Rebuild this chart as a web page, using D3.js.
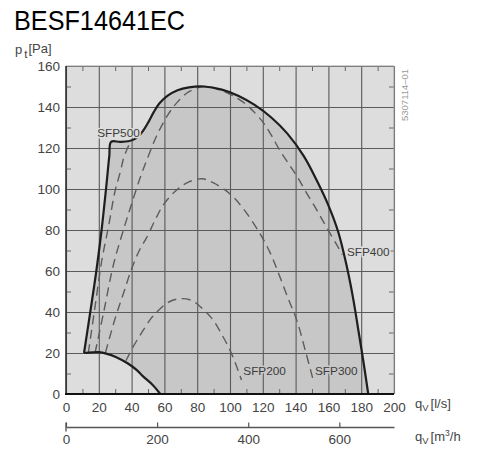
<!DOCTYPE html>
<html>
<head>
<meta charset="utf-8">
<script src="https://cdn.jsdelivr.net/npm/d3@7"></script>
<style>
  body { margin: 0; background: #fff; }
  svg text { font-family: "Liberation Sans", Arial, sans-serif; }
</style>
</head>
<body>
<div id="chart"></div>
<script>
// ---- values ----
var chartTitle = "BESF14641EC";
var drawingId = "5307114\u201301";

// axis ticks
var xTicks = [0, 20, 40, 60, 80, 100, 120, 140, 160, 180, 200];     // l/s
var yTicks = [0, 20, 40, 60, 80, 100, 120, 140, 160];               // Pa
var m3hTicks = [0, 200, 400, 600];                                  // m3/h

// working envelope, bold upper/right boundary (q in l/s, p in Pa)
var envQ = [11, 14.8, 18.5, 21.7, 24.4, 26.4, 27.5, 33, 38, 41.5, 44.5, 47.5, 50.5, 53.5, 57, 62, 68, 75, 84,
            95, 105, 115, 125, 135, 145, 153, 160, 166, 171, 175, 178.5, 181.5, 184.3];
var envP = [20, 40, 60, 80, 100, 116, 123, 123, 123.3, 124.2, 126, 129, 133, 137.5, 141.8, 145.5, 148.2, 149.6, 150,
            148.5, 145.5, 141, 135, 127, 116, 104, 92, 79, 63, 47, 30, 15, 0];

// bold lower boundary
var lowQ = [11, 16, 20, 25, 30, 37.5, 43, 47, 53, 57.5];
var lowP = [20, 20.3, 20.4, 19.6, 18.2, 15, 11.8, 8.6, 4.3, 0];

// dashed SFP lines
var sfp500Q = [13.6, 17.6, 21.8, 26, 29.9, 33, 35, 37, 39.5];
var sfp500P = [20, 42, 65, 82, 99, 108, 114.6, 119, 123.4];

var sfp400Q = [17.7, 23, 28.9, 35, 40, 45, 49.2, 55.3, 62, 67.5, 75, 84, 92, 100, 106, 112, 120.3, 125,
               130.5, 136, 141, 146, 152, 157, 162, 166, 168.5];
var sfp400P = [20, 40, 63, 80, 92.7, 105, 114, 126, 136, 142, 147.5, 150, 148.8, 146.2, 143.5, 139.7, 132.4, 126.5,
               118.7, 112, 106, 99, 91, 84, 77, 71.5, 68];

var sfp300Q = [24, 30, 35, 40, 45, 49, 55, 60, 67.5, 75, 83, 90, 100, 108, 118.3, 125, 130, 135.5, 140.7, 146, 151];
var sfp300P = [20, 37, 49, 61, 70.5, 76, 86, 93, 99.5, 103.5, 105, 103, 97.6, 90.5, 78.2, 68, 58, 46.5, 36, 21, 6];

var sfp200Q = [36.5, 42, 47, 52, 57.3, 63, 70, 77, 84, 89.8, 95, 100, 104, 107];
var sfp200P = [16.2, 24.5, 31, 37, 41.5, 45, 46.5, 45.5, 41, 36, 29, 21.4, 13.5, 6.8];

// curve labels and where they sit (q, p of text start / baseline)
var labelText = ["SFP500", "SFP400", "SFP300", "SFP200"];
var labelQ = [19, 171.3, 151.8, 108.1];
var labelP = [125.4, 67.2, 9.3, 9.3];

// ---- chart ----
var svgWidth = 500, svgHeight = 451;
var margin = {top: 66, right: 106, bottom: 57, left: 66};
var width = svgWidth - margin.left - margin.right;    // 328
var height = svgHeight - margin.top - margin.bottom;  // 328

var outerFill = "#dddddd";
var innerFill = "#c7c7c7";

var svg = d3.select("#chart").append("svg")
  .attr("width", svgWidth)
  .attr("height", svgHeight);

var g = svg.append("g")
  .attr("transform", `translate(${margin.left}, ${margin.top})`);

var x = d3.scaleLinear().domain([0, 200]).range([0, width]);
var y = d3.scaleLinear().domain([0, 160]).range([height, 0]);
// second scale: same flow in m3/h (1 l/s = 3.6 m3/h)
var xm = d3.scaleLinear().domain([0, 200 * 3.6]).range([0, width]);

function pts(qs, ps) {
  return qs.map((q, i) => [q, ps[i]]);
}

var line = d3.line()
  .x(d => x(d[0]))
  .y(d => y(d[1]))
  .curve(d3.curveCatmullRom.alpha(0.5));

// background of plot area
g.append("rect")
  .attr("width", width)
  .attr("height", height)
  .attr("fill", outerFill);

// envelope fill: upper boundary then lower boundary back
var envPts = pts(envQ, envP);
var lowPts = pts(lowQ, lowP);
var fillPath = line(envPts) + line(lowPts.slice().reverse()).replace(/^M/, "L") + "Z";
g.append("path")
  .attr("d", fillPath)
  .attr("fill", innerFill);

// grid
var gridX = g.append("g")
  .attr("transform", `translate(0, ${height})`)
  .call(d3.axisBottom(x).tickValues(xTicks).tickSize(-height).tickFormat(""));
var gridY = g.append("g")
  .call(d3.axisLeft(y).tickValues(yTicks).tickSize(-width).tickFormat(""));
[gridX, gridY].forEach(sel => {
  sel.select(".domain").remove();
  sel.selectAll("line").attr("stroke", "#5a5a5a").attr("stroke-width", 1.1);
});

// minor ticks on all four sides, pointing inwards
var xMinor = xTicks.slice(0, -1).map(v => v + 10);
var yMinor = yTicks.slice(0, -1).map(v => v + 10);
var minorAxes = [
  g.append("g").call(d3.axisTop(x).tickValues(xMinor).tickSize(-5).tickFormat("")),
  g.append("g").attr("transform", `translate(0, ${height})`)
    .call(d3.axisBottom(x).tickValues(xMinor).tickSize(-5).tickFormat("")),
  g.append("g").call(d3.axisLeft(y).tickValues(yMinor).tickSize(-5).tickFormat("")),
  g.append("g").attr("transform", `translate(${width}, 0)`)
    .call(d3.axisRight(y).tickValues(yMinor).tickSize(-5).tickFormat(""))
];
minorAxes.forEach(sel => {
  sel.select(".domain").remove();
  sel.selectAll("line").attr("stroke", "#666").attr("stroke-width", 1);
});

// dashed SFP curves
[pts(sfp500Q, sfp500P), pts(sfp400Q, sfp400P), pts(sfp300Q, sfp300P), pts(sfp200Q, sfp200P)]
  .forEach(d => {
    g.append("path")
      .attr("d", line(d))
      .attr("fill", "none")
      .attr("stroke", "#5c5c5c")
      .attr("stroke-width", 1.4)
      .attr("stroke-dasharray", "9,5.5");
  });

// bold envelope
[envPts, lowPts].forEach(d => {
  g.append("path")
    .attr("d", line(d))
    .attr("fill", "none")
    .attr("stroke", "#1e1e1e")
    .attr("stroke-width", 2.2)
    .attr("stroke-linejoin", "round");
});

// frame
g.append("line").attr("x1", 0).attr("x2", width).attr("y1", 0).attr("y2", 0)
  .attr("stroke", "#a0a0a0").attr("stroke-width", 1);
g.append("line").attr("x1", width).attr("x2", width).attr("y1", 0).attr("y2", height)
  .attr("stroke", "#a0a0a0").attr("stroke-width", 1);
g.append("line").attr("x1", 0).attr("x2", 0).attr("y1", 0).attr("y2", height)
  .attr("stroke", "#333").attr("stroke-width", 1.6);
g.append("line").attr("x1", -1).attr("x2", width).attr("y1", height).attr("y2", height)
  .attr("stroke", "#111").attr("stroke-width", 2);

// curve labels (with a halo in the local background colour)
labelText.forEach((t, i) => {
  var inside = (t === "SFP200" || t === "SFP300");
  g.append("text")
    .attr("x", x(labelQ[i]))
    .attr("y", y(labelP[i]))
    .attr("font-size", "11.8px")
    .attr("fill", "#3c3c3c")
    .attr("stroke", inside ? innerFill : outerFill)
    .attr("stroke-width", 3)
    .attr("paint-order", "stroke")
    .text(t);
});

// tick labels
var xAxis = g.append("g")
  .attr("transform", `translate(0, ${height})`)
  .call(d3.axisBottom(x).tickValues(xTicks).tickSize(0).tickPadding(8));
var yAxis = g.append("g")
  .call(d3.axisLeft(y).tickValues(yTicks).tickSize(0).tickPadding(6));
[xAxis, yAxis].forEach(sel => {
  sel.select(".domain").remove();
  sel.selectAll("text").attr("font-size", "13.5px").attr("fill", "#444")
    .attr("font-family", "'Liberation Sans', Arial, sans-serif");
});

// second flow axis in m3/h
var m3Axis = g.append("g")
  .attr("transform", `translate(0, ${height + 33})`)
  .call(d3.axisBottom(xm).tickValues(m3hTicks).tickSizeInner(-4.5).tickSizeOuter(0).tickPadding(7));
m3Axis.select(".domain").attr("stroke", "#555").attr("stroke-width", 1.6);
m3Axis.selectAll("line").attr("stroke", "#555").attr("stroke-width", 1.2);
m3Axis.selectAll("text").attr("font-size", "13.5px").attr("fill", "#444")
  .attr("font-family", "'Liberation Sans', Arial, sans-serif");
m3Axis.append("line")
  .attr("x1", xm(0)).attr("x2", xm(0)).attr("y1", -4.5).attr("y2", 4.5)
  .attr("stroke", "#555").attr("stroke-width", 1.4);

// axis titles
var yTitle = svg.append("text").attr("x", 15).attr("y", 53.5).attr("fill", "#444");
yTitle.append("tspan").attr("font-size", "13px").text("p");
yTitle.append("tspan").attr("font-size", "11.5px").attr("dx", 2).attr("dy", 4.5).text("t");
yTitle.append("tspan").attr("font-size", "13px").attr("dx", 1).attr("dy", -5).text("[Pa]");

var xTitle = svg.append("text").attr("x", 415).attr("y", 407.5).attr("fill", "#444");
xTitle.append("tspan").attr("font-size", "13px").text("q");
xTitle.append("tspan").attr("font-size", "9.5px").attr("dy", 3).text("V");
xTitle.append("tspan").attr("font-size", "13px").attr("dx", 2).attr("dy", -3).text("[l/s]");

var xmTitle = svg.append("text").attr("x", 415).attr("y", 440.5).attr("fill", "#444");
xmTitle.append("tspan").attr("font-size", "13px").text("q");
xmTitle.append("tspan").attr("font-size", "9.5px").attr("dy", 3).text("V");
xmTitle.append("tspan").attr("font-size", "13px").attr("dx", 2).attr("dy", -3).text("[m");
xmTitle.append("tspan").attr("font-size", "8.5px").attr("dy", -5).text("3");
xmTitle.append("tspan").attr("font-size", "13px").attr("dy", 5).text("/h");

// drawing number, rotated on the right
svg.append("text")
  .attr("transform", "translate(408, 121) rotate(-90)")
  .attr("font-size", "9.5px")
  .attr("fill", "#9a9a9a")
  .text(drawingId);

// page title
svg.append("text")
  .attr("x", 14)
  .attr("y", 30)
  .attr("font-family", "Lato, 'Open Sans', sans-serif")
  .attr("font-size", "28px")
  .attr("fill", "#000")
  .attr("textLength", 171)
  .attr("lengthAdjust", "spacingAndGlyphs")
  .text(chartTitle);
</script>
</body>
</html>
